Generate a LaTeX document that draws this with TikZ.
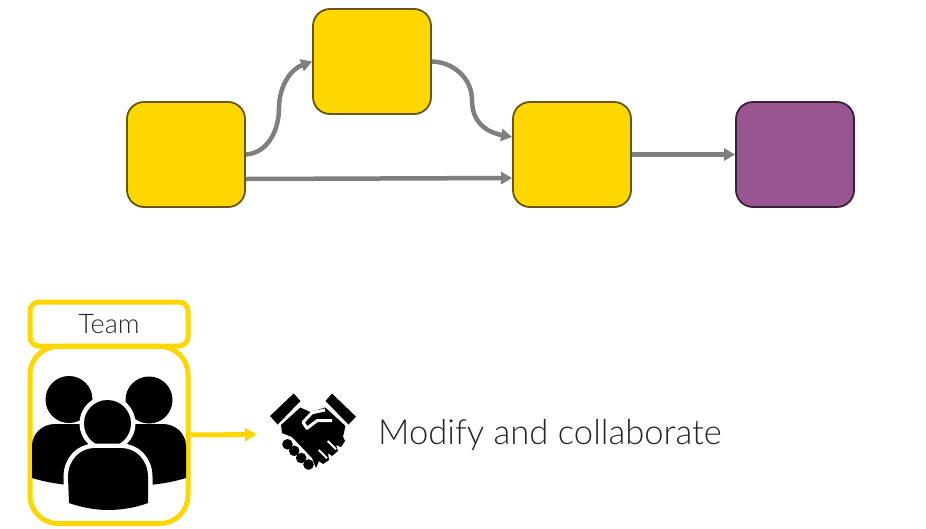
\documentclass[tikz,border=0pt]{standalone}
\usepackage{xcolor}
\usepackage{fontspec}
\setmainfont{Lato Light}
\usepackage{tikz}
\usetikzlibrary{arrows.meta}

\definecolor{gold}{HTML}{FFD700}
\definecolor{golddark}{HTML}{665600}
\definecolor{plum}{HTML}{97568F}
\definecolor{plumdark}{HTML}{3C1F38}
\definecolor{flow}{HTML}{7F7F7F}
\definecolor{ink}{HTML}{262626}

\tikzset{
    task/.style={rectangle,rounded corners=17pt,draw=golddark,fill=gold,line width=1.8pt,minimum width=118pt,minimum height=105pt},
    flowline/.style={-{Triangle[length=11pt,width=12pt]},flow,line width=4.5pt},
    teambox/.style={rectangle,draw=gold,line width=5pt,minimum width=158pt},
    icon/.style={fill=black,draw=none},
    halo/.style={preaction={draw=white,fill=white,line width=9pt}}
}

\begin{document}
\begin{tikzpicture}[x=1pt,y=-1pt,node distance=386pt]
    \useasboundingbox (0,0) rectangle (926,528);

    \node[task] (A) at (186,154.5) {};
    \node[task] (B) at (372,61.5) {};
    \node[task,right of=A] (C) {};
    \node[task,right of=C,node distance=223pt,fill=plum,draw=plumdark] (D) {};

    \draw[flowline] (A.east) .. controls (268,153) and (279,130) .. (279,108) .. controls (279,86) and (291,69) .. (B.west);
    \draw[flowline] (B.east) .. controls (453,62) and (472,78) .. (472,100) .. controls (472,122) and (486,132) .. ([yshift=17.5pt]C.west);
    \draw[flowline] ([yshift=-24.5pt]A.east) -- ([yshift=-23.5pt]C.west);
    \draw[flowline] (C) -- (D);

    \node[teambox,rounded corners=9pt,minimum height=44pt,font=\fontsize{27}{32}\selectfont,text=ink] (label) at (109,324) {Team};
    \node[teambox,rounded corners=28pt,minimum height=177pt] (team) at (109,435) {};
    \coordinate (tip) at (257,434.5);
    \draw[-{Triangle[length=12pt,width=13pt]},gold,line width=5pt] (team.east) -- (tip);
    \node[anchor=base west,inner sep=0pt,font=\fontsize{34.6}{40}\selectfont,text=ink] (modify) at (378,444) {Modify and collaborate};

    % people
    \fill[icon] (69,399.5) circle (23.5);
    \fill[icon] (149,400) circle (23.5);
    \fill[icon] (32,478) .. controls (42,481) and (55,484) .. (70,485) -- (105,450) -- (84,424) -- (55,424) .. controls (42,424) and (32,434) .. (32,446) -- cycle;
    \fill[icon] (186,478) .. controls (176,481) and (163,484) .. (148,485) -- (113,450) -- (134,424) -- (163,424) .. controls (176,424) and (186,434) .. (186,446) -- cycle;
    \fill[icon,halo] (107.5,423.5) circle (23.5);
    \fill[icon,halo] (69,503) -- (68,477) .. controls (68,460) and (80,448) .. (95,448) -- (121,448) .. controls (136,448) and (148,460) .. (148,477) -- (148,503) .. controls (135,508) and (120,510) .. (108,510) .. controls (95,510) and (80,507) .. (69,503) -- cycle;

    % handshake
    \fill[icon] (270,416) -- (293.7,393.5) -- (300.5,401) -- (277.7,424.5) -- cycle;
    \fill[icon] (325.5,401) -- (332,393.5) -- (356,416.7) -- (348.5,424.5) -- cycle;
    \fill[icon] (281,425) -- (300.3,407.5) -- (310.3,412) -- (325.3,407.5) -- (345.5,426) -- (343,436.7) -- (345,441) -- (341,447) -- (336,445) -- (338,451) -- (332,456) -- (328,453) -- (329,460) -- (323,464) -- (319,461) -- (316,468) -- (312,458) -- (292,437) -- (282,433) -- cycle;
    \foreach \x/\y in {287.5/444.3,294.2/450.8,301.2/458,308.5/464.5}
        \fill[icon] (\x,\y) circle (5.3);
    \draw[white,line width=2pt] (327.7,441) -- (336,449.3) (318.7,450) -- (327,458.3);
    \draw[white,line width=3pt,line join=round] (325,410) -- (312,412.7) -- (303,422.3) -- (307,428.3) -- (317,420.7) -- (332,420.7);
\end{tikzpicture}
\end{document}
